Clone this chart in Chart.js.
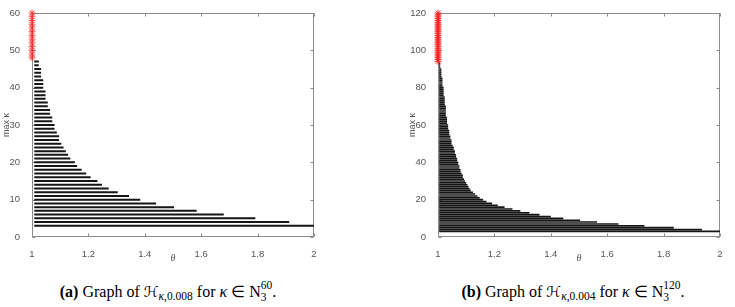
<!DOCTYPE html>
<html>
<head>
<meta charset="utf-8">
<script src="https://cdn.jsdelivr.net/npm/chart.js@4/dist/chart.umd.min.js"></script>
<style>
  body { margin: 0; width: 735px; height: 307px; background: #fff; position: relative; overflow: hidden; }
  .plot { position: absolute; top: 0; width: 329px; height: 265px; }
  .cap { position: absolute; top: 279px; width: 400px; text-align: center; white-space: nowrap;
         font-family: "Liberation Serif", "Times New Roman", serif; font-size: 16px; line-height: 18px; color: #000; }
  .scr { font-family: "DejaVu Serif", "DejaVu Sans", serif; font-style: italic; font-size: 15px; }
  .sub { font-size: 11.5px; vertical-align: -3px; line-height: 0; }
  .ss { display: inline-block; vertical-align: -4px; line-height: 12px; font-size: 11.5px; text-align: left; }
  .ss span { display: block; }
</style>
</head>
<body>
<div class="plot" style="left:0px;"><canvas id="chartA"></canvas></div>
<div class="plot" style="left:406px;"><canvas id="chartB"></canvas></div>
<div class="cap" style="left:-32px;"><b>(a)</b> Graph of <span class="scr">ℋ</span><span class="sub"><i>κ</i>,0.008</span> for <i>κ</i> ∈ N<span class="ss"><span>60</span><span>3</span></span>.</div>
<div class="cap" style="left:373px;"><b>(b)</b> Graph of <span class="scr">ℋ</span><span class="sub"><i>κ</i>,0.004</span> for <i>κ</i> ∈ N<span class="ss"><span>120</span><span>3</span></span>.</div>
<script>
// (a) step 0.008: largest theta per kappa
const kappaA = [3, 4, 5, 6, 7, 8, 9, 10, 11, 12, 13, 14, 15, 16, 17, 18, 19, 20, 21, 22, 23, 24, 25,
  26, 27, 28, 29, 30, 31, 32, 33, 34, 35, 36, 37, 38, 39, 40, 41, 42, 43, 44, 45, 46, 47];
const thetaMaxA = [2.000, 1.912, 1.792, 1.680, 1.584, 1.504, 1.440, 1.384, 1.344, 1.304, 1.272, 1.248, 1.232,
  1.208, 1.192, 1.176, 1.160, 1.152, 1.136, 1.128, 1.120, 1.112, 1.104, 1.096, 1.096, 1.088, 1.080, 1.080,
  1.072, 1.072, 1.064, 1.064, 1.056, 1.056, 1.048, 1.048, 1.048, 1.040, 1.040, 1.040, 1.032, 1.032, 1.032,
  1.024, 1.024];
// kappa with no feasible theta (red marks at theta = 1)
const kappaRedA = [48, 49, 50, 51, 52, 53, 54, 55, 56, 57, 58, 59, 60];

// (b) step 0.004
const kappaB = [3, 4, 5, 6, 7, 8, 9, 10, 11, 12, 13, 14, 15, 16, 17, 18, 19, 20, 21, 22, 23, 24, 25,
  26, 27, 28, 29, 30, 31, 32, 33, 34, 35, 36, 37, 38, 39, 40, 41, 42, 43, 44, 45, 46, 47, 48, 49, 50,
  51, 52, 53, 54, 55, 56, 57, 58, 59, 60, 61, 62, 63, 64, 65, 66, 67, 68, 69, 70, 71, 72, 73, 74, 75,
  76, 77, 78, 79, 80, 81, 82, 83, 84, 85, 86, 87, 88, 89, 90, 91, 92, 93];
const thetaMaxB = [2.000, 1.936, 1.836, 1.732, 1.640, 1.564, 1.504, 1.444, 1.400, 1.360, 1.324, 1.292, 1.264,
  1.236, 1.212, 1.192, 1.172, 1.160, 1.148, 1.140, 1.132, 1.124, 1.116, 1.112, 1.108, 1.104, 1.100, 1.096,
  1.092, 1.088, 1.088, 1.084, 1.080, 1.080, 1.076, 1.076, 1.072, 1.072, 1.068, 1.068, 1.064, 1.064, 1.060,
  1.060, 1.056, 1.056, 1.052, 1.048, 1.048, 1.048, 1.044, 1.044, 1.040, 1.040, 1.040, 1.036, 1.036, 1.036,
  1.032, 1.032, 1.032, 1.032, 1.028, 1.028, 1.028, 1.028, 1.028, 1.028, 1.024, 1.024, 1.024, 1.024, 1.024,
  1.020, 1.020, 1.020, 1.020, 1.020, 1.016, 1.016, 1.016, 1.016, 1.016, 1.012, 1.012, 1.012, 1.012, 1.012,
  1.008, 1.008, 1.008];
const kappaRedB = [94, 95, 96, 97, 98, 99, 100, 101, 102, 103, 104, 105, 106, 107, 108, 109, 110, 111,
  112, 113, 114, 115, 116, 117, 118, 119, 120];

const xTicks = [1, 1.2, 1.4, 1.6, 1.8, 2];
const yTicksA = [0, 10, 20, 30, 40, 50, 60];
const yTicksB = [0, 20, 40, 60, 80, 100, 120];

// box round the axes with inward ticks on all sides, like matlab
const matlabBox = {
  id: 'matlabBox',
  beforeDatasetsDraw(chart) {
    const { ctx, chartArea: a, scales: { x, y } } = chart;
    const l = Math.round(a.left) + 0.5, r = Math.round(a.right) - 0.5;
    const t = Math.round(a.top) + 0.5, b = Math.round(a.bottom) - 0.5;
    ctx.save();
    ctx.strokeStyle = '#8c8c8c';
    ctx.lineWidth = 1;
    ctx.strokeRect(l, t, r - l, b - t);
    ctx.beginPath();
    x.ticks.forEach(tk => {
      const px = Math.round(x.getPixelForValue(tk.value)) + 0.5;
      ctx.moveTo(px, b); ctx.lineTo(px, b - 3);
      ctx.moveTo(px, t); ctx.lineTo(px, t + 3);
    });
    y.ticks.forEach(tk => {
      const py = Math.round(y.getPixelForValue(tk.value)) + 0.5;
      ctx.moveTo(l, py); ctx.lineTo(l + 3, py);
      ctx.moveTo(r, py); ctx.lineTo(r - 3, py);
    });
    ctx.stroke();
    ctx.restore();
  }
};

function rowSegments(kappa, thetaMax, thetaStart) {
  const pts = [];
  kappa.forEach((k, i) => {
    pts.push({ x: thetaStart, y: k }, { x: thetaMax[i], y: k }, { x: NaN, y: NaN });
  });
  return pts;
}

function makeChart(id, kappa, thetaMax, thetaStart, kappaRed, yMax, yTicks, rowWidth) {
  const tickFont = { family: 'Liberation Sans', size: 9.5 };
  return new Chart(document.getElementById(id), {
    type: 'scatter',
    data: {
      datasets: [{
        data: rowSegments(kappa, thetaMax, thetaStart),
        showLine: true,
        spanGaps: false,
        borderColor: '#151515',
        borderWidth: rowWidth,
        borderCapStyle: 'butt',
        pointRadius: 0,
        pointHoverRadius: 0
      }, {
        data: kappaRed.map(k => ({ x: 1, y: k })),
        showLine: false,
        pointStyle: 'star',
        pointRadius: 3.5,
        pointBorderColor: 'rgba(255, 30, 30, 0.75)',
        pointBorderWidth: 1,
        pointBackgroundColor: 'rgba(255, 30, 30, 0.75)',
        clip: false
      }]
    },
    options: {
      responsive: true,
      maintainAspectRatio: false,
      animation: false,
      events: [],
      layout: { padding: { top: 13, right: 15, left: 0, bottom: 0 } },
      plugins: { legend: { display: false }, tooltip: { enabled: false } },
      scales: {
        x: {
          type: 'linear', min: 1, max: 2,
          afterBuildTicks: s => { s.ticks = xTicks.map(v => ({ value: v })); },
          afterFit: s => { s.height = 28; },
          grid: { display: false },
          border: { display: false },
          ticks: { color: '#555', font: tickFont, padding: 4, maxRotation: 0, autoSkip: false, callback: v => String(v) },
          title: { display: true, text: 'θ', color: '#555',
                   font: { family: 'Liberation Serif', style: 'italic', size: 10 }, padding: { top: 0, bottom: 1 } }
        },
        y: {
          type: 'linear', min: 0, max: yMax,
          afterBuildTicks: s => { s.ticks = yTicks.map(v => ({ value: v })); },
          afterFit: s => { s.width = 32; },
          grid: { display: false },
          border: { display: false },
          ticks: { color: '#555', font: tickFont, padding: 4, autoSkip: false, callback: v => String(v) },
          title: { display: true, text: 'max κ', color: '#555',
                   font: { family: 'Liberation Sans', size: 9 }, padding: { top: 1, bottom: 0 } }
        }
      }
    },
    plugins: [matlabBox]
  });
}

makeChart('chartA', kappaA, thetaMaxA, 1.008, kappaRedA, 60, yTicksA, 2);
makeChart('chartB', kappaB, thetaMaxB, 1.004, kappaRedB, 120, yTicksB, 1.6);
</script>
</body>
</html>
